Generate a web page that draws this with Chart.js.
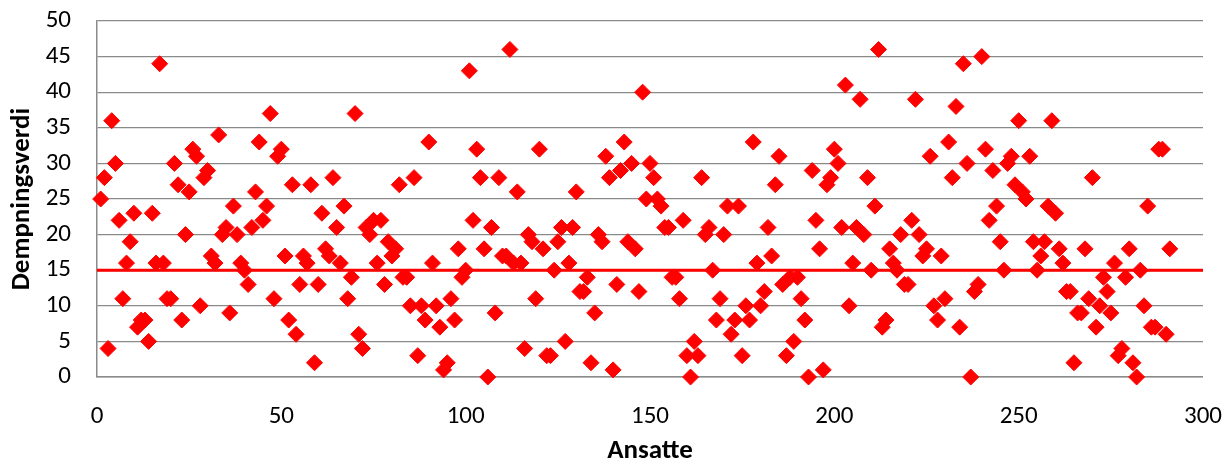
<!DOCTYPE html>
<html>
<head>
<meta charset="utf-8">
<script src="https://cdn.jsdelivr.net/npm/chart.js@4/dist/chart.umd.min.js"></script>
<style>
  html, body { margin: 0; padding: 0; background: #fff; }
</style>
</head>
<body>
<canvas id="myChart" width="1227" height="462"></canvas>
<script>
// Dempningsverdi per ansatt (x = 1, 2, 3 ...)
var dempningsverdi = [
  25, 28, 4, 36, 30, 22, 11, 16, 19, 23,
  7, 8, 8, 5, 23, 16, 44, 16, 11, 11,
  30, 27, 8, 20, 26, 32, 31, 10, 28, 29,
  17, 16, 34, 20, 21, 9, 24, 20, 16, 15,
  13, 21, 26, 33, 22, 24, 37, 11, 31, 32,
  17, 8, 27, 6, 13, 17, 16, 27, 2, 13,
  23, 18, 17, 28, 21, 16, 24, 11, 14, 37,
  6, 4, 21, 20, 22, 16, 22, 13, 19, 17,
  18, 27, 14, 14, 10, 28, 3, 10, 8, 33,
  16, 10, 7, 1, 2, 11, 8, 18, 14, 15,
  43, 22, 32, 28, 18, 0, 21, 9, 28, 17,
  17, 46, 16, 26, 16, 4, 20, 19, 11, 32,
  18, 3, 3, 15, 19, 21, 5, 16, 21, 26,
  12, 12, 14, 2, 9, 20, 19, 31, 28, 1,
  13, 29, 33, 19, 30, 18, 12, 40, 25, 30,
  28, 25, 24, 21, 21, 14, 14, 11, 22, 3,
  0, 5, 3, 28, 20, 21, 15, 8, 11, 20,
  24, 6, 8, 24, 3, 10, 8, 33, 16, 10,
  12, 21, 17, 27, 31, 13, 3, 14, 5, 14,
  11, 8, 0, 29, 22, 18, 1, 27, 28, 32,
  30, 21, 41, 10, 16, 21, 39, 20, 28, 15,
  24, 46, 7, 8, 18, 16, 15, 20, 13, 13,
  22, 39, 20, 17, 18, 31, 10, 8, 17, 11,
  33, 28, 38, 7, 44, 30, 0, 12, 13, 45,
  32, 22, 29, 24, 19, 15, 30, 31, 27, 36,
  26, 25, 31, 19, 15, 17, 19, 24, 36, 23,
  18, 16, 12, 12, 2, 9, 9, 18, 11, 28,
  7, 10, 14, 12, 9, 16, 3, 4, 14, 18,
  2, 0, 15, 10, 24, 7, 7, 32, 32, 6,
  18
]
var grenseverdi = 15
var xTicks = [0, 50, 100, 150, 200, 250, 300]
var yTicks = [0, 5, 10, 15, 20, 25, 30, 35, 40, 45, 50]

var punkter = dempningsverdi.map((v, i) => ({ x: i + 1, y: v }))
var grenseLinje = [{ x: xTicks[0], y: grenseverdi }, { x: xTicks[xTicks.length - 1], y: grenseverdi }]

var fontFamily = "Carlito, Lato, 'Open Sans', sans-serif"
var gray = '#8a8a8a'

let ctx = document.getElementById('myChart').getContext('2d');
let chart = new Chart(ctx, {
    type: 'scatter',
    data: {
        datasets: [{
            label: 'Dempningsverdi',
            data: punkter,
            pointStyle: 'rectRot',
            pointRadius: 8,
            pointHoverRadius: 8,
            backgroundColor: '#ff0000',
            borderColor: '#ff0000',
            borderWidth: 1,
            clip: false
        },
        {
            label: 'Grense',
            type: 'line',
            data: grenseLinje,
            borderColor: '#ff0000',
            borderWidth: 3,
            pointRadius: 0,
            fill: false
        }]
    },
    options: {
        responsive: false,
        animation: false,
        devicePixelRatio: 1,
        layout: { padding: { left: 0, right: 0, top: 0, bottom: 0 } },
        plugins: {
            legend: { display: false },
            tooltip: { enabled: false }
        },
        scales: {
            x: {
                type: 'linear',
                min: 0,
                max: 300,
                afterBuildTicks: (scale) => { scale.ticks = xTicks.map(v => ({ value: v })) },
                afterFit: (scale) => { scale.height = 85 },
                grid: { display: false, drawTicks: true, tickLength: 20, tickColor: 'rgba(0,0,0,0)' },
                border: { display: true, color: gray, width: 1.5 },
                ticks: { color: '#000', padding: 5, font: { family: fontFamily, size: 25 } },
                title: {
                    display: true,
                    text: 'Ansatte',
                    color: '#000',
                    padding: { top: 0, bottom: -3 },
                    font: { family: fontFamily, size: 27, weight: 'bold', lineHeight: 1 }
                }
            },
            y: {
                min: 0,
                max: 50,
                afterBuildTicks: (scale) => { scale.ticks = yTicks.map(v => ({ value: v })) },
                afterFit: (scale) => { scale.width = 97 },
                grid: { color: gray, lineWidth: 1.3, drawTicks: true, tickLength: 20, tickColor: 'rgba(0,0,0,0)' },
                border: { display: true, color: gray, width: 1.5 },
                ticks: { color: '#000', padding: 6, font: { family: fontFamily, size: 25 } },
                title: {
                    display: true,
                    text: 'Dempningsverdi',
                    color: '#000',
                    padding: { top: 9, bottom: 0 },
                    font: { family: fontFamily, size: 27, weight: 'bold', lineHeight: 1 }
                }
            }
        }
    }
});
</script>
</body>
</html>
